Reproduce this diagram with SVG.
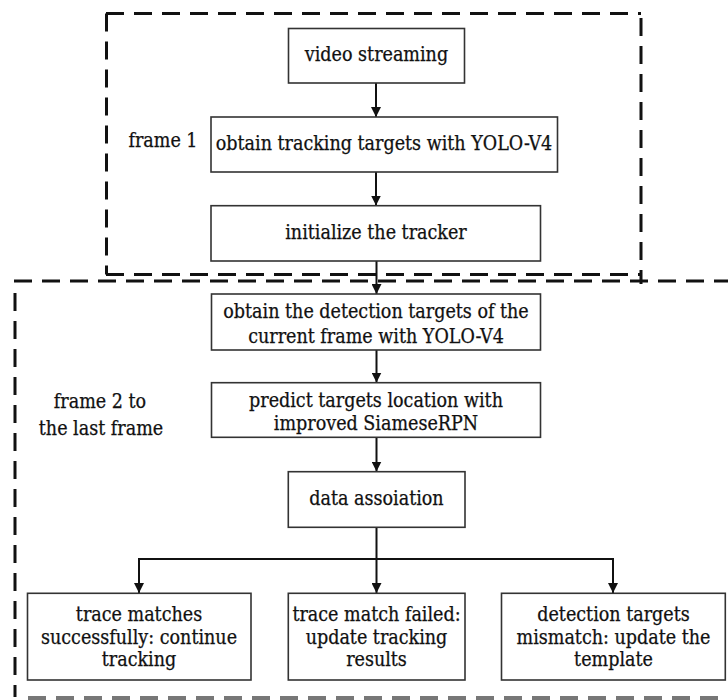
<svg xmlns="http://www.w3.org/2000/svg" width="728" height="700" viewBox="0 0 728 700">
  <style>
    .box { fill: #ffffff; stroke: #333333; stroke-width: 1.6; }
    .lbl { font-family: "DejaVu Serif", "Liberation Serif", serif; font-stretch: condensed; font-size: 19.5px; fill: #111111; stroke: #111111; stroke-width: 0.25; text-anchor: middle; }
    .edge { fill: none; stroke: #111111; stroke-width: 2; }
    .frame { fill: none; stroke: #111111; stroke-width: 3; stroke-dasharray: 18 10; }
    .frame-low { fill: none; stroke: #777777; stroke-width: 4; stroke-dasharray: 18 10; }
  </style>
  <defs>
    <marker id="arrow" viewBox="0 0 10 10" refX="10" refY="5" markerWidth="10" markerHeight="10" markerUnits="userSpaceOnUse" orient="auto">
      <path d="M0,0 L10,5 L0,10 Z" fill="#111111"/>
    </marker>
  </defs>
  <rect width="728" height="700" fill="#ffffff"/>

  <!-- dashed region: frame 1 -->
  <g id="region-frame1">
    <line class="frame" x1="106" y1="13.5" x2="641" y2="13.5"/>
    <line class="frame" x1="106.5" y1="13.5" x2="106.5" y2="274.5"/>
    <line class="frame" x1="106" y1="274.5" x2="641" y2="274.5"/>
    <line class="frame" x1="641" y1="18" x2="641" y2="284"/>
    <text class="lbl" x="163" y="147">frame 1</text>
  </g>

  <!-- dashed region: frame 2 to the last frame -->
  <g id="region-frame2">
    <line class="frame" x1="14" y1="281" x2="728" y2="281"/>
    <line class="frame" x1="15" y1="293" x2="15" y2="697"/>
    <line class="frame-low" x1="28" y1="698" x2="728" y2="698"/>
    <text class="lbl" x="100" y="408">frame 2 to</text>
    <text class="lbl" x="101" y="435">the last frame</text>
  </g>

  <!-- connectors -->
  <g id="connectors">
    <line class="edge" x1="376" y1="83" x2="376" y2="117" marker-end="url(#arrow)"/>
    <line class="edge" x1="376" y1="172" x2="376" y2="205.5" marker-end="url(#arrow)"/>
    <line class="edge" x1="376.5" y1="261" x2="376.5" y2="294" marker-end="url(#arrow)"/>
    <line class="edge" x1="376.5" y1="350" x2="376.5" y2="382.5" marker-end="url(#arrow)"/>
    <line class="edge" x1="376.5" y1="437.5" x2="376.5" y2="471.5" marker-end="url(#arrow)"/>
    <line class="edge" x1="376.5" y1="527" x2="376.5" y2="593" marker-end="url(#arrow)"/>
    <polyline class="edge" points="139,593 139,559 613,559 613,593"/>
    <line class="edge" x1="139" y1="570" x2="139" y2="593" marker-end="url(#arrow)"/>
    <line class="edge" x1="613" y1="570" x2="613" y2="593" marker-end="url(#arrow)"/>
  </g>

  <g id="video-streaming">
    <rect class="box" x="288.5" y="28.5" width="176" height="54.5"/>
    <text class="lbl" x="376.5" y="61">video streaming</text>
  </g>

  <g id="obtain-tracking-targets">
    <rect class="box" x="211" y="117" width="346.5" height="55"/>
    <text class="lbl" x="384" y="150">obtain tracking targets with YOLO-V4</text>
  </g>

  <g id="initialize-tracker">
    <rect class="box" x="211" y="205.7" width="329.5" height="55.3"/>
    <text class="lbl" x="376" y="239">initialize the tracker</text>
  </g>

  <g id="obtain-detection-targets">
    <rect class="box" x="211.5" y="294" width="329" height="56"/>
    <text class="lbl" x="376" y="318">obtain the detection targets of the</text>
    <text class="lbl" x="376" y="343">current frame with YOLO-V4</text>
  </g>

  <g id="predict-targets">
    <rect class="box" x="211.5" y="382.7" width="329" height="54.6"/>
    <text class="lbl" x="376" y="407">predict targets location with</text>
    <text class="lbl" x="376" y="430">improved SiameseRPN</text>
  </g>

  <g id="data-association">
    <rect class="box" x="288.3" y="471.7" width="176.7" height="55.6"/>
    <text class="lbl" x="376.5" y="505">data assoiation</text>
  </g>

  <g id="trace-matches">
    <rect class="box" x="27.5" y="593.3" width="223.5" height="86.7"/>
    <text class="lbl" x="139" y="621">trace matches</text>
    <text class="lbl" x="139" y="643.5">successfully: continue</text>
    <text class="lbl" x="139" y="666">tracking</text>
  </g>

  <g id="trace-match-failed">
    <rect class="box" x="288.3" y="593.3" width="176.7" height="86.7"/>
    <text class="lbl" x="376.5" y="621">trace match failed:</text>
    <text class="lbl" x="376.5" y="643.5">update tracking</text>
    <text class="lbl" x="376.5" y="666">results</text>
  </g>

  <g id="detection-mismatch">
    <rect class="box" x="501.5" y="593.3" width="223.8" height="86.7"/>
    <text class="lbl" x="613.5" y="621">detection targets</text>
    <text class="lbl" x="613.5" y="643.5">mismatch: update the</text>
    <text class="lbl" x="613.5" y="666">template</text>
  </g>
</svg>
